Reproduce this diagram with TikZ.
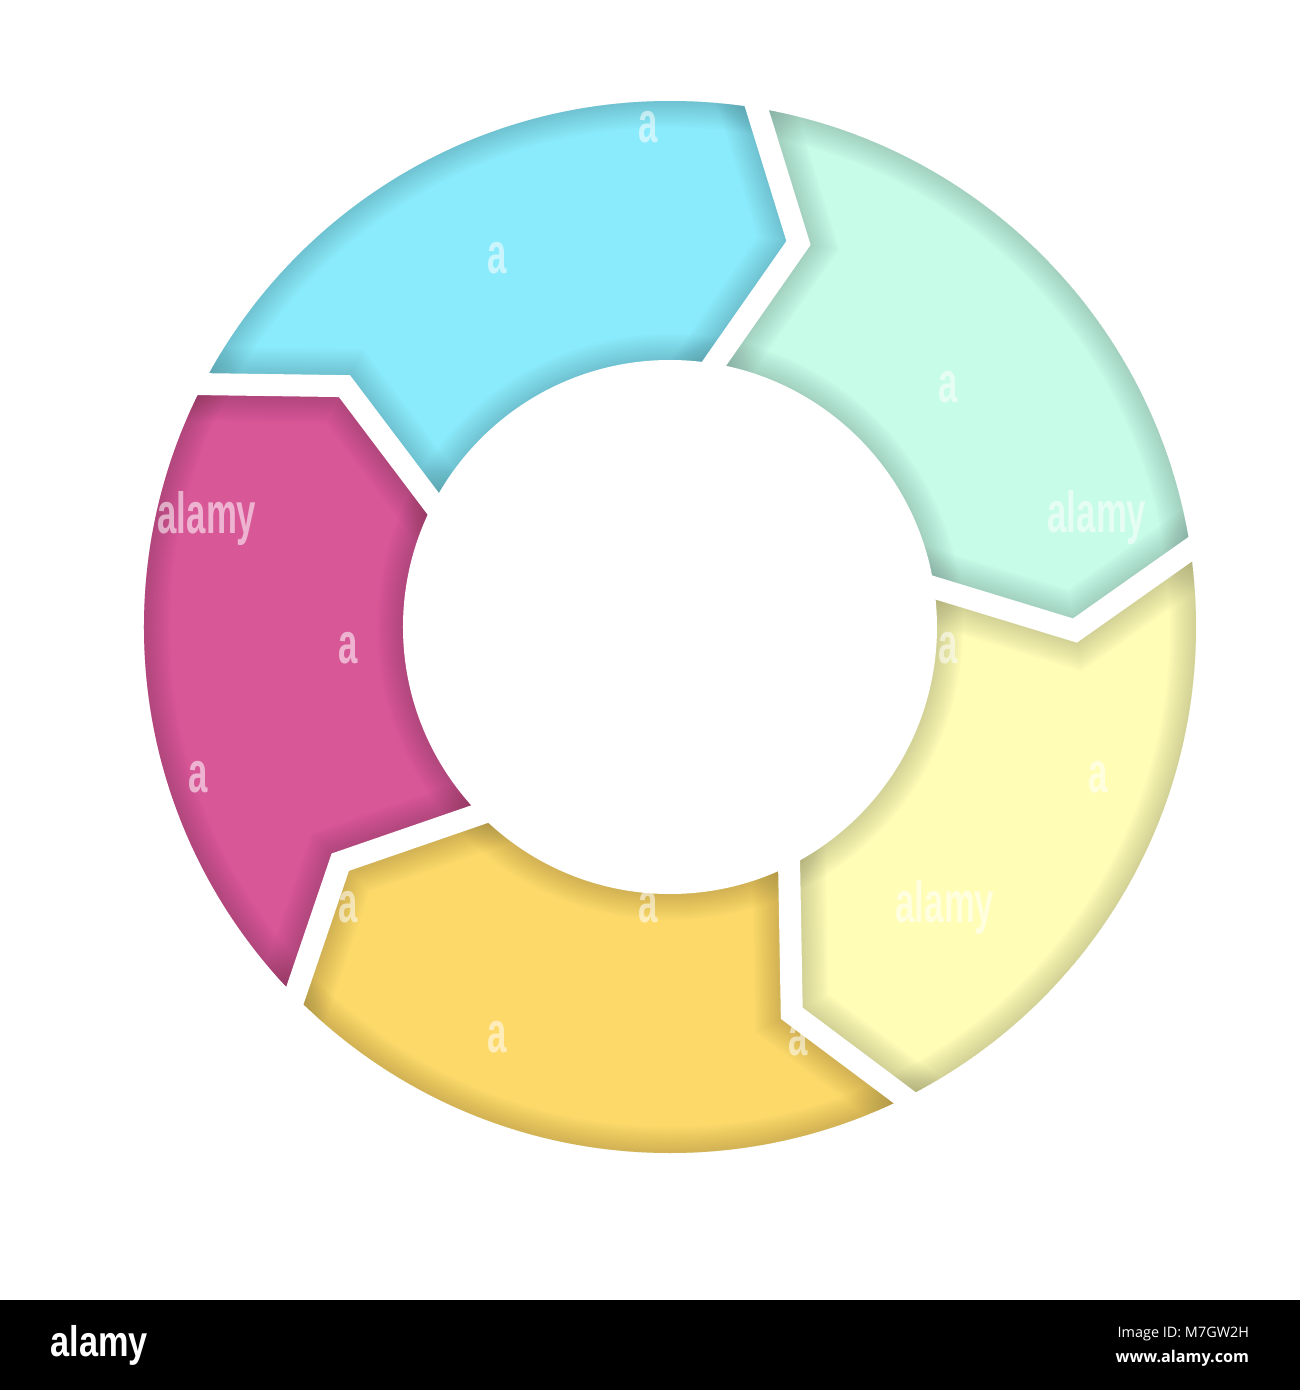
\documentclass[tikz,border=0pt]{standalone}
\usepackage{fontspec}
\setmainfont{Open Sans}
\newfontfamily\wmfont{Liberation Sans}[FakeStretch=0.6]
\newfontfamily\barfont{Liberation Sans}[FakeStretch=0.8]
\usetikzlibrary{calc}
\definecolor{segblue}{HTML}{8AEBFC}
\definecolor{seggreen}{HTML}{C6FCE8}
\definecolor{segyellow}{HTML}{FFFDB6}
\definecolor{segorange}{HTML}{FDD96A}
\definecolor{segmagenta}{HTML}{D85797}
\tikzset{
  gapline/.style={white, line width=0.22cm, line join=miter},
  wmark/.style={white, opacity=0.55, text opacity=0.55, inner sep=0pt, font=\wmfont\bfseries\fontsize{16.5}{16.5}\selectfont},
  wmletter/.style={wmark},
}
\begin{document}
\begin{tikzpicture}[x=0.01cm,y=0.01cm]
\useasboundingbox (-670,-763) rectangle (630,627);
\fill[white] (-670,-763) rectangle (630,627);
\def\Rin{267}\def\Rout{526}\def\Rmid{405}
% boundary chevrons
\foreach \k in {0,...,4}{
  \pgfmathsetmacro\th{80.5-72*\k}
  \pgfmathsetmacro\tt{\th-9}
  \pgfmathsetmacro\tc{\th+36}
  \coordinate (in\k) at (\th:\Rin);
  \coordinate (mid\k) at (\tt:\Rmid);
  \coordinate (out\k) at (\th:\Rout);
  \coordinate (ein\k) at ($(mid\k)!1.6!(in\k)$);
  \coordinate (eout\k) at ($(mid\k)!1.5!(out\k)$);
  \coordinate (far\k) at (\th:800);
  \coordinate (cap\k) at (\tc:1200);
}
% segments
\foreach \a/\b/\col in {4/0/segblue, 0/1/seggreen, 1/2/segyellow, 2/3/segorange, 3/4/segmagenta}{
  \begin{scope}
    \clip (0,0) circle (\Rout);
    \clip (far\a) -- (eout\a) -- (mid\a) -- (ein\a) -- (0,0) -- (ein\b) -- (mid\b) -- (eout\b) -- (far\b) -- (cap\b) -- cycle;
    \fill[\col] (-700,-700) rectangle (700,700);
    \foreach \s in {2,4,...,26}{
      \pgfmathsetmacro\lwc{2*\s*0.01}
      \pgfmathsetmacro\lwg{(22+2*\s)*0.01}
      \draw[\col!45!black, opacity=0.022, line width=\lwc cm] (0,0) circle (\Rout) (0,0) circle (\Rin);
      \draw[\col!45!black, opacity=0.022, line width=\lwg cm, line join=miter] (ein\a) -- (mid\a) -- (eout\a) (ein\b) -- (mid\b) -- (eout\b);
    }
  \end{scope}
}
% gaps
\foreach \k in {0,...,4}{
  \draw[gapline] (ein\k) -- (mid\k) -- (eout\k);
}
\fill[white] (0,0) circle (\Rin);
% watermark texts
\node[wmark] (w1) at (-463,109) {alamy};
\node[wmark] (w2) at (427,110) {alamy};
\node[wmark] (w3) at (275,-280) {alamy};
\node[wmletter] (a1) at (-22,500) {a};
\node[wmletter] (a2) at (-173,369) {a};
\node[wmletter] (a3) at (278,240) {a};
\node[wmletter] (a4) at (-322,-21) {a};
\node[wmletter] (a5) at (278,-21) {a};
\node[wmletter] (a6) at (-472,-150) {a};
\node[wmletter] (a7) at (428,-150) {a};
\node[wmletter] (a8) at (-322,-280) {a};
\node[wmletter] (a9) at (-22,-280) {a};
\node[wmletter] (a10) at (-173,-410) {a};
\node[wmletter] (a11) at (128,-413) {a};
% bottom bar
\fill[black] (-670,-763) rectangle (630,-673);
\node[white, anchor=base west, inner sep=0pt, font=\barfont\bfseries\fontsize{12.2}{12.2}\selectfont] (logo) at (-620,-729) {alamy};
\node[white, anchor=base west, inner sep=0pt, font=\fontsize{4.1}{4.1}\selectfont] (imgid) at (447,-710) {Image ID: M7GW2H};
\node[white, anchor=base west, inner sep=0pt, font=\bfseries\fontsize{4.6}{4.6}\selectfont] (www) at (445,-735) {www.alamy.com};
\end{tikzpicture}
\end{document}
